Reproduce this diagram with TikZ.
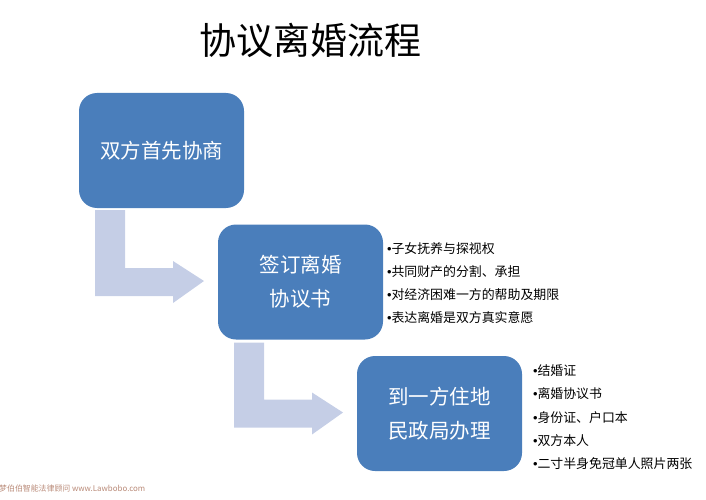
\documentclass[tikz,border=0pt]{standalone}
\usepackage{fontspec}
\setmainfont{Noto Sans CJK SC}
\newfontfamily\bulletfont{Liberation Sans}
\newcommand{\bul}{{\bulletfont •}}
\usetikzlibrary{calc}
\definecolor{boxblue}{HTML}{4A7EBB}
\definecolor{arrowblue}{HTML}{C5CEE6}
\definecolor{wmark}{HTML}{B98A78}
\tikzset{
  stepbox/.style={rounded corners=18pt,fill=boxblue,minimum width=165pt,minimum height=115pt,inner sep=0pt,outer sep=0pt,
    text=white,align=center,font=\fontsize{20.5}{34}\selectfont},
  notes/.style={anchor=north west,inner sep=0pt,outer sep=0pt,align=left,text=black,font=\fontsize{12.9}{23.1}\selectfont},
  blockarrow/.style={fill=arrowblue,draw=none}
}
\begin{document}
\begin{tikzpicture}[x=1pt,y=-1pt]
\useasboundingbox (0,0) rectangle (706,500);
\node[inner sep=0pt,font=\fontsize{37}{40}\selectfont] (title) at (310,40) {协议离婚流程};
\node[stepbox] (a) at (161.5,150.5) {双方首先协商};
\node[stepbox] (b) at (300.5,282) {签订离婚\\协议书};
\node[stepbox] (c) at (439.5,413.5) {到一方住地\\民政局办理};
\node[notes] (bn) at (387,242.5) {\bul 子女抚养与探视权\\\bul 共同财产的分割、承担\\\bul 对经济困难一方的帮助及期限\\\bul 表达离婚是双方真实意愿};
\node[notes] (cn) at (533,365) {\bul 结婚证\\\bul 离婚协议书\\\bul 身份证、户口本\\\bul 双方本人\\\bul 二寸半身免冠单人照片两张};
\node[anchor=west,inner sep=0pt,text=wmark,font=\fontsize{7.9}{9}\selectfont] (wm) at (-1,488.5) {梦伯伯智能法律顾问 www.Lawbobo.com};
% block arrows, placed from the boxes they join
\fill[blockarrow]
  let \p1=(a.south west),\p2=(b.west) in
  (\x1+16,\y1-2) -- (\x1+46,\y1-2) -- (\x1+46,\y2+14) -- (\x2-45,\y2+14) -- (\x2-45,\y2+21)
  -- (\x2-14,\y2+1) -- (\x2-45,\y2-21) -- (\x2-45,\y2-14) -- (\x1+16,\y2-14) -- cycle;
\fill[blockarrow]
  let \p1=(b.south west),\p2=(c.west) in
  (\x1+16,\y1-3) -- (\x1+46,\y1-3) -- (\x1+46,\y2+14) -- (\x2-45,\y2+14) -- (\x2-45,\y2+21)
  -- (\x2-14,\y2+1) -- (\x2-45,\y2-21) -- (\x2-45,\y2-14) -- (\x1+16,\y2-14) -- cycle;
\end{tikzpicture}
\end{document}
